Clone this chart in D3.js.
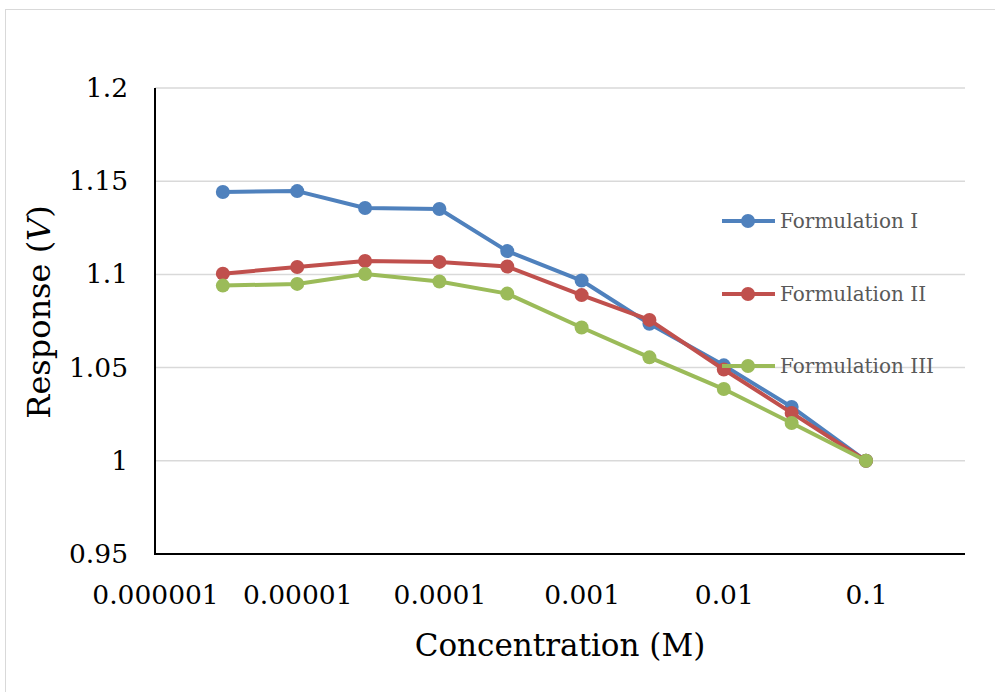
<!DOCTYPE html>
<html><head><meta charset="utf-8">
<script src="https://cdn.jsdelivr.net/npm/d3@7"></script>
<style>body{margin:0;background:#fff}svg{display:block}</style>
</head><body>
<svg id="c" width="995" height="692"></svg>
<script>
const concentrations = [0.000003, 0.00001, 0.00003, 0.0001, 0.0003, 0.001, 0.003, 0.01, 0.03, 0.1];
const formulationI   = [1.1442, 1.1447, 1.1356, 1.1351, 1.1125, 1.0967, 1.0735, 1.0512, 1.0289, 1.0];
const formulationII  = [1.1004, 1.1040, 1.1072, 1.1067, 1.1042, 1.0889, 1.0756, 1.0490, 1.0257, 1.0];
const formulationIII = [1.0940, 1.0949, 1.1002, 1.0962, 1.0897, 1.0715, 1.0555, 1.0385, 1.0203, 1.0];
const seriesNames = ["Formulation I", "Formulation II", "Formulation III"];
const xTicks = [0.000001, 0.00001, 0.0001, 0.001, 0.01, 0.1];
const xTickLabels = ["0.000001", "0.00001", "0.0001", "0.001", "0.01", "0.1"];
const yTicks = [0.95, 1, 1.05, 1.1, 1.15, 1.2];
const yTickLabels = ["0.95", "1", "1.05", "1.1", "1.15", "1.2"];

const colors = ["#4f81bd", "#c0504d", "#9bbb59"];
const series = [formulationI, formulationII, formulationIII];
const font = "'DejaVu Serif', serif";

const svg = d3.select("#c");
svg.append("rect").attr("x", 5.5).attr("y", 9.5).attr("width", 1000).attr("height", 700)
  .attr("fill", "#fff").attr("stroke", "#d9d9d9").attr("stroke-width", 1);

const pLeft = 155, pTop = 88, pBottom = 554, pRight = 965;
const x = d3.scaleLog().domain([0.000001, 0.1]).range([pLeft, 866]);
const y = d3.scaleLinear().domain([0.95, 1.2]).range([pBottom, pTop]);

// gridlines
svg.append("g").selectAll("line").data(yTicks.filter(v => v > 0.95)).join("line")
  .attr("x1", pLeft).attr("x2", pRight).attr("y1", d => y(d)).attr("y2", d => y(d))
  .attr("stroke", "#d9d9d9").attr("stroke-width", 1.5);

// y axis
const yAxis = svg.append("g").attr("transform", `translate(${pLeft},0)`)
  .call(d3.axisLeft(y).tickValues(yTicks).tickSize(0).tickPadding(27)
    .tickFormat((d, i) => yTickLabels[i]));
yAxis.select(".domain").remove();
yAxis.selectAll("text").attr("font-family", font).attr("font-size", 26.5).attr("fill", "#000");
svg.append("line").attr("x1", pLeft).attr("x2", pLeft).attr("y1", pTop).attr("y2", pBottom)
  .attr("stroke", "#000").attr("stroke-width", 2);

// x axis
const xAxis = svg.append("g").attr("transform", `translate(0,${pBottom})`)
  .call(d3.axisBottom(x).tickValues(xTicks).tickSize(0).tickPadding(31)
    .tickFormat((d, i) => xTickLabels[i]));
xAxis.select(".domain").remove();
xAxis.selectAll("text").attr("font-family", font).attr("font-size", 26.5).attr("fill", "#000");
svg.append("line").attr("x1", pLeft - 1).attr("x2", pRight).attr("y1", pBottom).attr("y2", pBottom)
  .attr("stroke", "#000").attr("stroke-width", 2);

// axis titles
svg.append("text").attr("x", 560).attr("y", 656).attr("text-anchor", "middle")
  .attr("font-family", font).attr("font-size", 31).attr("fill", "#000").text("Concentration (M)");
const yt = svg.append("text").attr("transform", "translate(50,312) rotate(-90)")
  .attr("text-anchor", "middle").attr("font-family", font).attr("font-size", 32).attr("fill", "#000");
yt.append("tspan").text("Response (");
yt.append("tspan").attr("font-style", "italic").text("V");
yt.append("tspan").text(")");

// lines
const line = d3.line().x(d => x(d[0])).y(d => y(d[1]));
series.forEach((s, k) => {
  const pts = concentrations.map((c, i) => [c, s[i]]);
  svg.append("path").attr("d", line(pts)).attr("fill", "none")
    .attr("stroke", colors[k]).attr("stroke-width", 4).attr("stroke-linejoin", "round");
  svg.append("g").selectAll("circle").data(pts).join("circle")
    .attr("cx", d => x(d[0])).attr("cy", d => y(d[1])).attr("r", 7).attr("fill", colors[k]);
});

// legend
const legY = [221, 294, 366];
seriesNames.forEach((n, k) => {
  const g = svg.append("g");
  g.append("line").attr("x1", 722).attr("x2", 775).attr("y1", legY[k]).attr("y2", legY[k])
    .attr("stroke", colors[k]).attr("stroke-width", 4);
  g.append("circle").attr("cx", 748).attr("cy", legY[k]).attr("r", 7).attr("fill", colors[k]);
  g.append("text").attr("x", 780).attr("y", legY[k]).attr("dy", "0.35em")
    .attr("font-family", font).attr("font-size", 20).attr("fill", "#595959").text(n);
});
</script>
</body></html>
